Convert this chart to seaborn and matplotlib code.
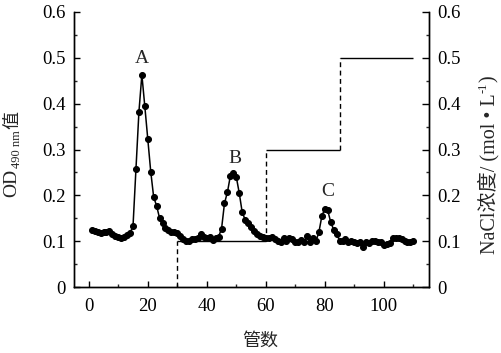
import numpy as np
import pandas as pd
import matplotlib
matplotlib.use("Agg")
import matplotlib.pyplot as plt
import seaborn as sns
from matplotlib.ticker import MultipleLocator

# ---------------- data ----------------
tubes = list(range(1, 111))
od = [
    0.124, 0.122, 0.120, 0.118, 0.119, 0.121, 0.123, 0.116, 0.112, 0.110,   # 1-10
    0.108, 0.110, 0.113, 0.118, 0.133, 0.258, 0.382, 0.463, 0.394, 0.323,   # 11-20
    0.252, 0.196, 0.177, 0.150, 0.140, 0.128, 0.124, 0.121, 0.119, 0.117,   # 21-30
    0.112, 0.104, 0.100, 0.101, 0.104, 0.105, 0.107, 0.115, 0.109, 0.107,   # 31-40
    0.109, 0.103, 0.107, 0.110, 0.127, 0.183, 0.207, 0.243, 0.249, 0.240,   # 41-50
    0.205, 0.163, 0.147, 0.139, 0.132, 0.123, 0.116, 0.112, 0.109, 0.107,   # 51-60
    0.107, 0.109, 0.105, 0.101, 0.099, 0.107, 0.101, 0.107, 0.104, 0.098,   # 61-70
    0.098, 0.103, 0.099, 0.112, 0.099, 0.107, 0.100, 0.120, 0.155, 0.171,   # 71-80
    0.167, 0.141, 0.125, 0.116, 0.101, 0.101, 0.105, 0.098, 0.101, 0.099,   # 81-90
    0.096, 0.099, 0.087, 0.098, 0.096, 0.101, 0.100, 0.098, 0.098, 0.091,   # 91-100
    0.094, 0.096, 0.107, 0.107, 0.107, 0.104, 0.101, 0.098, 0.099, 0.101,   # 101-110
]
salt_start = [30, 60, 85]
salt_end = [60, 85, 110]
salt_level = [0.1, 0.3, 0.5]
peak_labels = ["A", "B", "C"]
peak_x = [18, 49.5, 81]
peak_y = [0.48, 0.262, 0.19]
x_ticks = [0, 20, 40, 60, 80, 100]
y_ticks = [0, 0.1, 0.2, 0.3, 0.4, 0.5, 0.6]

# ---------------- style ----------------
sns.set_style("ticks")
SERIF = ["Liberation Serif", "Noto Sans CJK SC"]
CJK = ["Noto Sans CJK SC", "Liberation Serif"]
plt.rcParams["font.family"] = SERIF
plt.rcParams["axes.linewidth"] = 1.0
plt.rcParams["axes.edgecolor"] = "black"

fig = plt.figure(figsize=(5.02, 3.53), dpi=100)
ax = fig.add_axes([74 / 502, 1 - 287 / 353, (429 - 74) / 502, (287 - 12) / 353])

df = pd.DataFrame({"tube": tubes, "od": od})
sns.lineplot(data=df, x="tube", y="od", ax=ax, color="black", linewidth=1.1,
             marker="o", markersize=4.3, markeredgecolor="black", markerfacecolor="black")

ax.set_xlim(-5, 115.3)
ax.set_ylim(0, 0.6)
ax.set_xticks(x_ticks)
ax.set_xticklabels([str(v) for v in x_ticks])
ax.xaxis.set_minor_locator(MultipleLocator(10))
ax.set_yticks(y_ticks)
ax.set_yticklabels(["0" if v == 0 else f"{v:.1f}" for v in y_ticks])
ax.yaxis.set_minor_locator(MultipleLocator(0.05))
ax.tick_params(axis="both", which="major", direction="in", length=4.5, width=1.0,
               labelsize=13.5, pad=6, colors="black")
ax.tick_params(axis="both", which="minor", direction="in", length=2.5, width=1.0)
ax.tick_params(axis="x", pad=8)
ax.set_xlabel("")
ax.set_ylabel("")
for s in ["left", "bottom", "right"]:
    ax.spines[s].set_visible(True)
    ax.spines[s].set_color("black")
ax.spines["top"].set_visible(False)

# salt gradient on right axis
ax2 = ax.twinx()
ax2.set_ylim(0, 0.6)
prev = 0.0
for xs, xe, lv in zip(salt_start, salt_end, salt_level):
    ax2.vlines(xs, prev, lv, colors="black", linestyles=(0, (3.5, 2.5)), linewidth=1.0)
    ax2.hlines(lv, xs, xe, colors="black", linewidth=1.0)
    prev = lv
ax2.set_yticks(y_ticks)
ax2.set_yticklabels(["0" if v == 0 else f"{v:.1f}" for v in y_ticks])
ax2.yaxis.set_minor_locator(MultipleLocator(0.05))
ax2.tick_params(axis="y", which="major", direction="in", length=5, width=1.0,
                labelsize=13.5, pad=6, colors="black")
ax2.tick_params(axis="y", which="minor", direction="in", length=2.5, width=1.0)
ax2.spines["top"].set_visible(False)
ax2.spines["right"].set_color("black")
ax2.set_ylabel("")

for lab, px, py in zip(peak_labels, peak_x, peak_y):
    ax.text(px, py, lab, ha="center", va="bottom", fontsize=14, family=SERIF)

# x label
fig.text(260 / 502, 1 - 341 / 353, "管数", ha="center", va="center",
         fontsize=13, family=CJK)

# left y label: OD_490 nm 值
t1 = fig.text(12 / 502, 1 - 197 / 353, "OD", rotation=90, ha="center", va="bottom",
              fontsize=14, family=SERIF)
t2 = ax.annotate("490 nm", xy=(1, 1), xycoords=t1, xytext=(1.5, 0.5),
                 textcoords="offset points", rotation=90, ha="right", va="bottom",
                 fontsize=9, family=SERIF, annotation_clip=False)
t3 = ax.annotate("值", xy=(0.5, 1), xycoords=(t1, t2), xytext=(0, 1),
                 textcoords="offset points", rotation=90, ha="center", va="bottom",
                 fontsize=13, family=CJK, annotation_clip=False)

# right y label: NaCl浓度/（mol•L^-1）
r1 = fig.text(489 / 502, 1 - 254 / 353, "NaCl浓度/ (mol • L", rotation=90,
              ha="center", va="bottom", fontsize=14.5, family=SERIF)
r2 = ax.annotate("-1", xy=(0, 1), xycoords=r1, xytext=(-0.5, 0.3),
                 textcoords="offset points", rotation=90, ha="left", va="bottom",
                 fontsize=9, family=SERIF, annotation_clip=False)
r3 = ax.annotate(")", xy=(0.5, 1), xycoords=(r1, r2), xytext=(0, 0.5),
                 textcoords="offset points", rotation=90, ha="center", va="bottom",
                 fontsize=14.5, family=SERIF, annotation_clip=False)

fig.savefig("out.png", dpi=100)
